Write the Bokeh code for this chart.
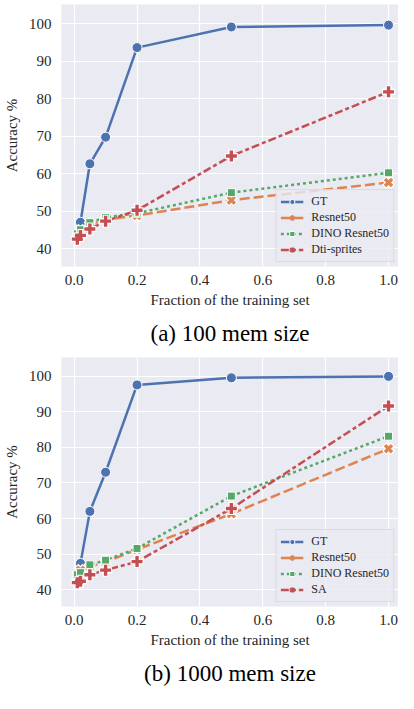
from bokeh.plotting import figure
from bokeh.models import Range1d, FixedTicker, NumeralTickFormatter, Legend, LegendItem, Title
from bokeh.layouts import column
from bokeh.embed import file_html
from bokeh.resources import INLINE

# ---- data ----
fractions = [0.01, 0.02, 0.05, 0.1, 0.2, 0.5, 1.0]
x_ticks = [0.0, 0.2, 0.4, 0.6, 0.8, 1.0]
y_ticks = [40, 50, 60, 70, 80, 90, 100]

names_a = ["GT", "Resnet50", "DINO Resnet50", "Dti-sprites"]
gt_a = [44.7, 47.1, 62.7, 69.8, 93.7, 99.2, 99.7]
resnet_a = [44.0, 45.0, 46.5, 47.8, 48.9, 53.0, 57.7]
dino_a = [44.0, 45.1, 47.0, 48.4, 49.5, 55.0, 60.3]
dti_a = [42.6, 43.6, 45.3, 47.4, 50.3, 64.8, 81.9]

names_b = ["GT", "Resnet50", "DINO Resnet50", "SA"]
gt_b = [44.5, 47.4, 62.0, 73.0, 97.5, 99.5, 99.9]
resnet_b = [44.0, 45.5, 46.5, 47.8, 51.3, 61.3, 79.6]
dino_b = [44.2, 44.8, 47.0, 48.3, 51.6, 66.3, 83.1]
sa_b = [42.0, 42.4, 44.2, 45.5, 47.9, 62.8, 91.6]

caption_a = "(a) 100 mem size"
caption_b = "(b) 1000 mem size"
x_label = "Fraction of the training set"
y_label = "Accuracy %"

# ---- style ----
COLORS = ["#4C72B0", "#DD8452", "#55A868", "#C44E52"]
DASHES = ["solid", "10 4", "3 3", "8 3 4 3"]
MARKERS = [
    dict(marker="circle", size=10, filled=True),
    dict(marker="x", size=10, filled=False),
    dict(marker="square", size=8, filled=True),
    dict(marker="cross", size=11, filled=False),
]
SERIF = "Liberation Serif"
TEXT = "#262626"
BG = "#EAEAF2"


def make_panel(series, names, caption, height):
    p = figure(width=398, height=height,
               x_range=Range1d(-0.0403, 1.0317), y_range=Range1d(35.3, 105.2),
               output_backend="svg", toolbar_location=None,
               min_border_left=60, min_border_right=0, min_border_top=4,
               min_border_bottom=83)
    p.background_fill_color = BG
    p.border_fill_color = "white"
    p.outline_line_color = None

    p.xaxis.ticker = FixedTicker(ticks=x_ticks)
    p.yaxis.ticker = FixedTicker(ticks=y_ticks)
    p.xaxis.formatter = NumeralTickFormatter(format="0.0")
    for ax in (p.xaxis, p.yaxis):
        ax.axis_line_color = None
        ax.major_tick_line_color = None
        ax.minor_tick_line_color = None
        ax.major_tick_out = 0
        ax.major_tick_in = 0
        ax.major_label_text_font = SERIF
        ax.major_label_text_font_size = "15px"
        ax.major_label_text_color = TEXT
        ax.axis_label_text_font = SERIF
        ax.axis_label_text_font_size = "15px"
        ax.axis_label_text_font_style = "normal"
        ax.axis_label_text_color = TEXT
    p.xaxis.major_label_standoff = 8
    p.xaxis.axis_label_standoff = 4
    p.yaxis.major_label_standoff = 10
    p.yaxis.axis_label_standoff = 6
    p.xaxis.axis_label = x_label
    p.yaxis.axis_label = y_label
    p.xgrid.grid_line_color = "white"
    p.ygrid.grid_line_color = "white"
    p.xgrid.grid_line_width = 1.2
    p.ygrid.grid_line_width = 1.2
    p.xgrid.ticker = FixedTicker(ticks=x_ticks)
    p.ygrid.ticker = FixedTicker(ticks=y_ticks)

    items = []
    for i, (vals, name) in enumerate(zip(series, names)):
        col = COLORS[i]
        m = MARKERS[i]
        ln = p.line(fractions, vals, line_color=col, line_width=2.5,
                    line_dash=DASHES[i])
        rs = [ln]
        if m["filled"]:
            sc = p.scatter(fractions, vals, marker=m["marker"], size=m["size"],
                           fill_color=col, line_color="white", line_width=1)
            rs.append(sc)
        else:
            p.scatter(fractions, vals, marker=m["marker"], size=m["size"] + 2,
                      line_color="white", line_width=6)
            sc = p.scatter(fractions, vals, marker=m["marker"], size=m["size"],
                           line_color=col, line_width=3.4)
            rs.append(sc)
        items.append(LegendItem(label=name, renderers=rs))

    legend = Legend(items=items, location="bottom_right")
    legend.margin = 4
    legend.padding = 4
    legend.spacing = 1
    legend.glyph_width = 23
    legend.glyph_height = 13
    legend.label_height = 13
    legend.label_standoff = 8
    legend.label_text_font = SERIF
    legend.label_text_font_size = "12px"
    legend.label_text_color = TEXT
    legend.background_fill_color = BG
    legend.background_fill_alpha = 0.8
    legend.border_line_color = "#cccccc"
    legend.border_line_width = 1
    p.add_layout(legend, "center")

    t = Title(text=caption, align="center", text_font=SERIF,
              text_font_size="23px", text_font_style="normal",
              text_color="black", standoff=16)
    p.add_layout(t, "below")
    return p


pa = make_panel([gt_a, resnet_a, dino_a, dti_a], names_a, caption_a, 353)
pb = make_panel([gt_b, resnet_b, dino_b, sa_b], names_b, caption_b, 340)

layout = column(pa, pb, spacing=0)
open("out.html", "w").write(file_html(layout, INLINE))
